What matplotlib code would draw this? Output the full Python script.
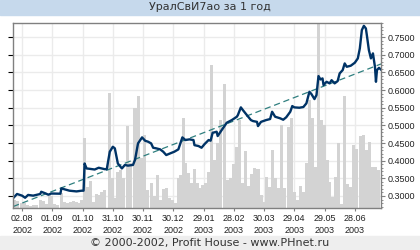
import matplotlib
matplotlib.use('Agg')
import matplotlib.pyplot as plt
import matplotlib.dates as mdates
from matplotlib.ticker import MultipleLocator, FormatStrFormatter, FixedLocator
import pandas as pd

plt.rcParams['font.family'] = ['DejaVu Sans']

start = pd.Timestamp('2002-07-24')

# price line: days since start, price
price_days = [0, 4, 9, 12, 15, 20, 27, 28, 32, 35, 38, 47, 48, 51, 56, 63, 68, 70,
              71, 73, 76, 81, 85, 91, 93, 96, 99, 101, 104, 108, 111, 114, 119, 121,
              124, 128, 131, 134, 137, 139, 142, 146, 149, 152, 156, 160, 164, 168,
              171, 175, 179, 180, 184, 187, 190, 194, 196, 198, 202, 203, 207, 212,
              217, 222, 223, 226, 228, 232, 236, 238, 242, 243, 246, 251, 255, 257,
              260, 265, 268, 271, 275, 277, 279, 284, 288, 291, 294, 296, 299, 301,
              303, 305, 307, 308, 311, 314, 316, 319, 322, 324, 327, 329, 331, 335,
              339, 342, 344, 346, 348, 350, 351, 353, 355, 357, 359, 360, 361, 363, 365]
price_vals = [0.2935, 0.3057, 0.301, 0.295, 0.303, 0.301, 0.3057, 0.312, 0.3076, 0.3037,
              0.307, 0.3065, 0.3217, 0.319, 0.315, 0.313, 0.315, 0.315,
              0.392, 0.378, 0.377, 0.375, 0.380, 0.376, 0.376, 0.4254, 0.4395, 0.435,
              0.392, 0.378, 0.388, 0.386, 0.388, 0.402,
              0.449, 0.466, 0.4566, 0.4537, 0.449, 0.4367, 0.435, 0.432, 0.4254, 0.416,
              0.4208, 0.4254, 0.432, 0.466,
              0.4585, 0.4604, 0.4585, 0.444, 0.4415, 0.4367, 0.447, 0.4585, 0.4566,
              0.479, 0.482, 0.4698, 0.4868, 0.5075,
              0.515, 0.5245, 0.529, 0.551, 0.5434, 0.529, 0.515, 0.5123, 0.510, 0.498,
              0.510, 0.515, 0.518, 0.5386,
              0.5245, 0.52, 0.516, 0.523, 0.5386, 0.5547, 0.551, 0.550, 0.552, 0.5624,
              0.5952, 0.5887, 0.5745, 0.586,
              0.6397, 0.630, 0.633, 0.6142, 0.6235, 0.619, 0.628, 0.619, 0.6255, 0.6473,
              0.6566, 0.6755, 0.666, 0.669,
              0.6774, 0.6897, 0.718, 0.7699, 0.782, 0.7746, 0.7548, 0.713, 0.6897, 0.704,
              0.666, 0.6235, 0.6566, 0.663, 0.658]

# trend line end points
trend_days = [0, 365]
trend_vals = [0.270, 0.674]

# volume bars: days since start, volume (arbitrary units)
vol_days = [1, 4, 8, 11, 14, 17, 20, 23, 27, 30, 33, 36, 38, 41, 44, 48, 51, 54, 57, 60,
            63, 66, 68, 71, 74, 77, 80, 83, 85, 88, 91, 96, 99, 101, 104, 107, 110, 114,
            117, 121, 124, 127, 130, 133, 137, 140, 143, 146, 149, 152, 155, 158, 161,
            164, 166, 169, 171, 174, 177, 180, 183, 185, 188, 191, 194, 197, 200, 203,
            206, 210, 213, 216, 219, 222, 225, 228, 231, 234, 237, 240, 243, 246, 248,
            251, 254, 257, 260, 263, 266, 269, 273, 276, 279, 282, 285, 288, 291, 294,
            297, 300, 303, 306, 309, 312, 314, 317, 320, 323, 326, 329, 332, 335, 338,
            341, 345, 348, 351, 354, 357, 360, 363]
vol_vals = [8, 7, 5, 5, 3, 2, 3, 3, 8, 7, 4, 13, 12, 4, 3, 15, 6, 5, 6, 7,
            6, 5, 8, 70, 21, 27, 6, 14, 13, 16, 18, 115, 30, 10, 36, 38, 30, 82,
            45, 100, 112, 50, 73, 18, 25, 12, 33, 8, 19, 20, 10, 8, 5,
            30, 33, 90, 45, 35, 25, 39, 25, 20, 23, 25, 36, 143, 48, 65,
            88, 124, 28, 30, 44, 61, 88, 25, 57, 22, 34, 40, 39, 13, 6,
            31, 21, 58, 30, 20, 83, 20, 81, 90, 16, 8, 22, 16, 45, 108,
            90, 41, 190, 88, 83, 48, 26, 11, 31, 65, 4, 112, 24, 21, 63,
            59, 72, 73, 58, 66, 41, 41, 38]

tick_dates = ['2002-08-02', '2002-09-01', '2002-10-01', '2002-10-31', '2002-11-30',
              '2002-12-30', '2003-01-29', '2003-02-28', '2003-03-30', '2003-04-29',
              '2003-05-29', '2003-06-28']

title = 'УралСвИ7ао за 1 год'
footer = '© 2000-2002, Profit House - www.PHnet.ru'

price_x = start + pd.to_timedelta(price_days, unit='D')
trend_x = start + pd.to_timedelta(trend_days, unit='D')
vol_x = start + pd.to_timedelta(vol_days, unit='D')
xmin, xmax = start, start + pd.Timedelta(days=365)
ylo, yhi = 0.266, 0.790
xticks = mdates.date2num(pd.to_datetime(tick_dates))

fig = plt.figure(figsize=(4.2, 2.5), dpi=100)
fig.patch.set_facecolor('white')

# title and footer bands
fig.patches.append(plt.Rectangle((0, 1 - 15 / 250), 1, 15 / 250, transform=fig.transFigure,
                                 color='#c6d9ec', zorder=0))
fig.patches.append(plt.Rectangle((0, 0), 1, 14 / 250, transform=fig.transFigure,
                                 color='#eeeeee', zorder=0))
fig.text(0.5, 1 - 7.5 / 250, title, ha='center', va='center', fontsize=8, color='#333333')
fig.text(0.5, 7 / 250, footer, ha='center', va='center', fontsize=8, color='#333333')

rect = [13 / 420, 1 - 208 / 250, 368 / 420, 185 / 250]

# bottom layer: grid
ax = fig.add_axes(rect)
ax.set_xlim(xmin, xmax)
ax.set_ylim(ylo, yhi)
ax.xaxis.set_major_locator(FixedLocator(xticks))
ax.yaxis.set_major_locator(MultipleLocator(0.05))
ax.grid(True, color='#ebebeb', linewidth=1)
ax.tick_params(left=False, labelleft=False, bottom=False, labelbottom=False)
for s in ax.spines.values():
    s.set_visible(False)

# middle layer: volume
ax_vol = ax.twinx()
ax_vol.bar(vol_x, vol_vals, width=3, color='#d3d3d3', linewidth=0)
ax_vol.set_ylim(0, 185)
ax_vol.set_xlim(xmin, xmax)
ax_vol.axis('off')

# top layer: price
ax_p = ax.twinx()
ax_p.xaxis.set_visible(True)
ax_p.set_xlim(xmin, xmax)
ax_p.set_ylim(ylo, yhi)
ax_p.plot(trend_x, trend_vals, color='#2f7f7f', linewidth=0.9, dashes=(5, 3))
ax_p.plot(price_x, price_vals, color='#003366', linewidth=1.7, solid_joinstyle='round')
ax_p.yaxis.set_major_locator(MultipleLocator(0.05))
ax_p.yaxis.set_minor_locator(MultipleLocator(0.01))
ax_p.yaxis.set_major_formatter(FormatStrFormatter('%.4f'))
ax_p.tick_params(axis='y', which='major', length=3, width=0.8, color='#808080',
                 labelsize=6.5, labelcolor='#222222', pad=2)
ax_p.tick_params(axis='y', which='minor', length=1.5, width=0.6, color='#808080')
ax_p.xaxis.set_major_locator(FixedLocator(xticks))
ax_p.xaxis.set_major_formatter(mdates.DateFormatter('%d.%m\n%Y'))
ax_p.tick_params(axis='x', length=2.5, width=0.8, color='#808080', labelsize=6.5,
                 labelcolor='#222222', pad=2, labelbottom=True, bottom=True)
for lbl in ax_p.get_xticklabels() + ax_p.get_yticklabels():
    lbl.set_family(['Liberation Sans', 'DejaVu Sans'])
for lbl in ax_p.get_xticklabels():
    lbl.set_linespacing(1.35)
for s in ax_p.spines.values():
    s.set_color('#808080')
    s.set_linewidth(1)

fig.savefig('out.png', dpi=100)
